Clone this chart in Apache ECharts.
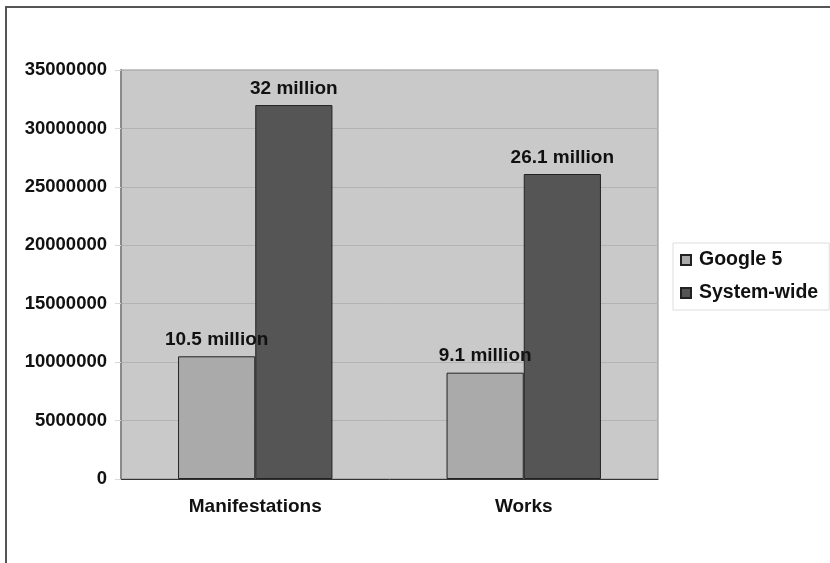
<!DOCTYPE html>
<html>
<head>
<meta charset="utf-8">
<script src="https://cdn.jsdelivr.net/npm/echarts@6/dist/echarts.min.js"></script>
<style>
  html, body { margin: 0; padding: 0; background: #ffffff; }
  #chart { width: 830px; height: 563px; }
</style>
</head>
<body>
<div id="chart"></div>
<script>
// Record counts by entity type
const categories = ['Manifestations', 'Works'];
const google5 = [10500000, 9100000];
const systemWide = [32000000, 26100000];
const seriesNames = ['Google 5', 'System-wide'];
const yTicks = { min: 0, max: 35000000, interval: 5000000 };

const FONT = '"Liberation Sans", Arial, sans-serif';

const chart = echarts.init(document.getElementById('chart'));

const millionLabel = {
  show: true,
  position: 'top',
  distance: 7,
  fontFamily: FONT,
  fontWeight: 'bold',
  fontSize: 19,
  color: '#111',
  formatter: p => (p.value / 1e6) + ' million'
};

chart.setOption({
  backgroundColor: '#ffffff',
  animation: false,
  textStyle: { fontFamily: FONT },
  graphic: [
    {
      type: 'polyline',
      silent: true,
      shape: { points: [[6, 563], [6, 7], [830, 7]] },
      style: { stroke: '#555', lineWidth: 2, fill: null }
    }
  ],
  grid: {
    left: 121, top: 70, right: 172, bottom: 84,
    show: true,
    backgroundColor: '#c9c9c9',
    borderColor: '#8a8a8a',
    borderWidth: 1
  },
  legend: {
    orient: 'vertical',
    left: 673,
    top: 243,
    itemWidth: 10,
    itemHeight: 10,
    itemGap: 13,
    padding: [7, 11, 7, 7],
    backgroundColor: '#ffffff',
    borderColor: '#dddddd',
    borderWidth: 1,
    icon: 'rect',
    textStyle: {
      fontFamily: FONT,
      fontWeight: 'bold',
      fontSize: 19.5,
      color: '#111',
      padding: [0, 0, 0, 3]
    },
    data: seriesNames
  },
  xAxis: {
    type: 'category',
    data: categories,
    axisLine: { lineStyle: { color: '#333', width: 1 } },
    axisTick: { show: false },
    axisLabel: {
      margin: 18,
      fontFamily: FONT,
      fontWeight: 'bold',
      fontSize: 19,
      color: '#111'
    }
  },
  yAxis: {
    type: 'value',
    min: yTicks.min,
    max: yTicks.max,
    interval: yTicks.interval,
    axisLine: { show: true, lineStyle: { color: '#8a8a8a', width: 2 } },
    axisTick: { show: true, length: 6, lineStyle: { color: '#d8d8d8' } },
    splitLine: { show: true, lineStyle: { color: '#b3b3b3', width: 1 } },
    axisLabel: {
      margin: 14,
      fontFamily: FONT,
      fontWeight: 'bold',
      fontSize: 18.5,
      color: '#111',
      formatter: v => String(v)
    }
  },
  series: [
    {
      name: seriesNames[0],
      type: 'bar',
      data: google5,
      barGap: '0%',
      barCategoryGap: '42.5%',
      itemStyle: { color: '#aaaaaa', borderColor: '#222', borderWidth: 1 },
      label: millionLabel
    },
    {
      name: seriesNames[1],
      type: 'bar',
      data: systemWide,
      barGap: '0%',
      barCategoryGap: '42.5%',
      itemStyle: { color: '#555555', borderColor: '#222', borderWidth: 1 },
      label: millionLabel
    }
  ]
});
</script>
</body>
</html>
